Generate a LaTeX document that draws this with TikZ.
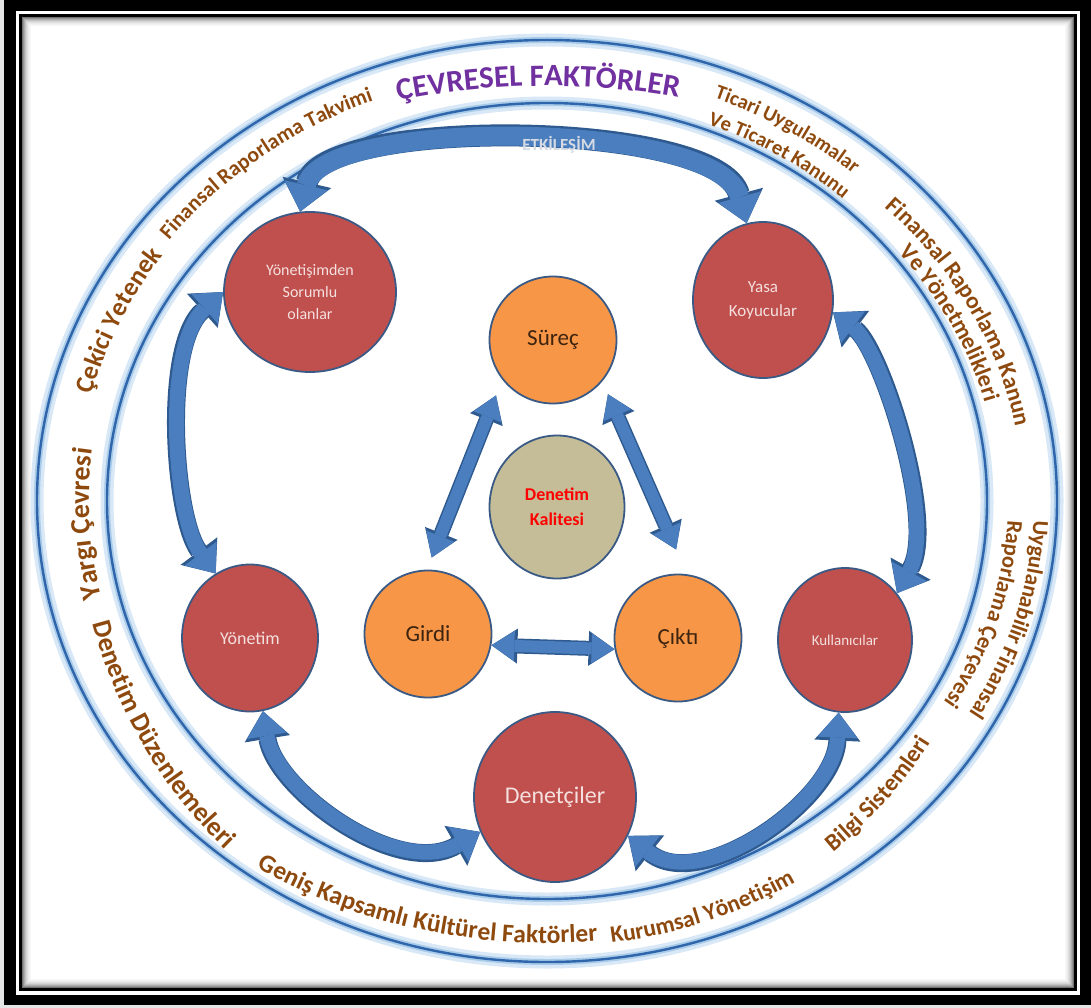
\documentclass[tikz,border=0pt]{standalone}
\usepackage{fontspec}
\setmainfont{Carlito}
\usetikzlibrary{arrows.meta,decorations.text,shapes.geometric}

\definecolor{ringblue}{HTML}{2F65AA}
\definecolor{ringglow}{HTML}{A9CBEA}
\definecolor{arrowfill}{HTML}{4A7EBF}
\definecolor{arrowedge}{HTML}{2E5A8F}
\definecolor{actorred}{HTML}{C0504D}
\definecolor{phaseorange}{HTML}{F79646}
\definecolor{qualitytan}{HTML}{C4BD97}
\definecolor{outline}{HTML}{3A5A85}
\definecolor{factorbrown}{HTML}{8E4A0E}
\definecolor{factorpurple}{HTML}{7030A0}
\definecolor{actortext}{HTML}{F4E0DF}
\definecolor{phasetext}{HTML}{3C2410}
\definecolor{etktext}{HTML}{D5DAE3}

\newcommand{\fsz}[1]{\fontsize{#1}{#1}\selectfont}

\tikzset{
  actor/.style={ellipse, draw=outline, line width=1.8, fill=actorred, text=actortext, align=center, inner sep=0pt},
  phase/.style={ellipse, draw=outline, line width=1.8, fill=phaseorange, text=phasetext, inner sep=0pt,
    minimum width=127, minimum height=127, font=\fsz{23}},
  quality/.style={ellipse, draw=outline, line width=1.8, fill=qualitytan, text=red, align=center, inner sep=0pt,
    minimum width=135, minimum height=143, font=\fontsize{18}{25}\selectfont\bfseries},
  ringline/.style={draw=ringblue, line width=2.4,
    preaction={draw=ringglow!45, line width=13}, preaction={draw=ringglow, line width=6}},
  flow/.style={draw=arrowfill, line width=15,
    {Triangle[length=25,width=40,line width=0pt]}-{Triangle[length=25,width=40,line width=0pt]},
    preaction={draw=arrowedge, line width=18,
      {Triangle[length=28,width=46,line width=0pt]}-{Triangle[length=28,width=46,line width=0pt]}}},
  bigflow/.style={draw=arrowfill, line width=19,
    {Triangle[length=27,width=44,line width=0pt]}-{Triangle[length=27,width=44,line width=0pt]},
    preaction={draw=arrowedge, line width=22,
      {Triangle[length=30,width=50,line width=0pt]}-{Triangle[length=30,width=50,line width=0pt]}}},
  thinflow/.style={draw=arrowfill, line width=12,
    {Triangle[length=23,width=30,line width=0pt]}-{Triangle[length=23,width=30,line width=0pt]},
    preaction={draw=arrowedge, line width=15,
      {Triangle[length=26,width=35,line width=0pt]}-{Triangle[length=26,width=35,line width=0pt]}}},
  factor/.style 2 args={decorate, decoration={text along path, text align=center, text color=factorbrown,
    text={|\fsz{#1}\bfseries|#2}}},
  title/.style 2 args={decorate, decoration={text along path, text align=center, text color=factorpurple,
    text={|\fsz{#1}\bfseries|#2}}},
}

\begin{document}
\begin{tikzpicture}[x=1pt,y=-1pt]
  \useasboundingbox (0,0) rectangle (1091,1008);

  % frame
  \fill[black!10] (0,0) rectangle (1091,1008);
  \fill[black] (4,0) rectangle (1091,1005);
  \fill[white] (16,11) rectangle (1080,995);
  \draw[black, line width=3] (20.5,15.5) rectangle (1075.5,989.5);
  \foreach \k/\s in {1/55,2/42,3/32,4/24,5/17,6/12,7/8,8/5,9/3}
    \draw[black!\s, line width=1.1] ({21.5+\k},{16.5+\k}) rectangle ({1074.5-\k},{988.5-\k});

  % the two rings
  \coordinate (c) at (547,501);
  \draw[ringline] (c) ellipse[x radius=510, y radius=461];
  \draw[ringline] (c) ellipse[x radius=440, y radius=398];

  % ring texts, upper half read clockwise
  \path[title={31}{ÇEVRESEL FAKTÖRLER}] (c) ++(229:560 and 415) arc[start angle=229, end angle=309, x radius=560, y radius=415];
  \path[factor={21.5}{Finansal Raporlama Takvimi}] (c) ++(192:475 and 430) arc[start angle=192, end angle=272, x radius=475, y radius=430];
  \path[factor={26}{Çekici Yetenek}] (c) ++(164:470 and 426) arc[start angle=164, end angle=244, x radius=470, y radius=426];
  \path[factor={28}{Yargı Çevresi}] (c) ++(137:458 and 414) arc[start angle=137, end angle=217, x radius=458, y radius=414];
  \path[factor={20.5}{Ticari Uygulamalar}] (c) ++(261.5:471 and 431) arc[start angle=261.5, end angle=341.5, x radius=471, y radius=431];
  \path[factor={20.5}{Ve Ticaret Kanunu}] (c) ++(262.3:446 and 404) arc[start angle=262.3, end angle=342.3, x radius=446, y radius=404];
  \path[factor={23.5}{Finansal Raporlama Kanun}] (c) ++(293.5:476 and 417) arc[start angle=293.5, end angle=373.5, x radius=476, y radius=417];
  \path[factor={23.5}{Ve Yönetmelikleri}] (c) ++(294.5:452 and 395) arc[start angle=294.5, end angle=374.5, x radius=452, y radius=395];
  \path[factor={22.5}{Uygulanabilir Finansal}] (c) ++(-24.5:487 and 425) arc[start angle=-24.5, end angle=55.5, x radius=487, y radius=425];
  \path[factor={22.5}{Raporlama Çerçevesi}] (c) ++(-24.2:461 and 395) arc[start angle=-24.2, end angle=55.8, x radius=461, y radius=395];

  % ring texts, lower half read anticlockwise
  \path[factor={27}{Denetim Düzenlemeleri}] (c) ++(189:470 and 478) arc[start angle=189, end angle=109, x radius=470, y radius=478];
  \path[factor={25.5}{Geniş Kapsamlı Kültürel Faktörler}] (c) ++(150:520 and 442) arc[start angle=150, end angle=60, x radius=520, y radius=442];
  \path[factor={23.5}{Kurumsal Yönetişim}] (c) ++(110:478 and 446) arc[start angle=110, end angle=30, x radius=478, y radius=446];
  \path[factor={24}{Bilgi Sistemleri}] (c) ++(81.5:453 and 453) arc[start angle=81.5, end angle=1.5, x radius=453, y radius=453];

  % actors
  \node[actor, minimum width=172, minimum height=160, font=\fontsize{16}{22}\selectfont] (gov) at (310,292) {Yönetişimden\\Sorumlu\\olanlar};
  \node[actor, minimum width=140, minimum height=156, font=\fontsize{17}{24}\selectfont] (yasa) at (763,300) {Yasa\\Koyucular};
  \node[actor, minimum width=136, minimum height=147, font=\fsz{18}] (yon) at (250,638) {Yönetim};
  \node[actor, minimum width=134, minimum height=144, font=\fsz{15}] (kul) at (845,640) {Kullanıcılar};
  \node[actor, minimum width=162, minimum height=170, font=\fsz{24}] (den) at (555,797) {Denetçiler};

  % audit process
  \node[phase] (sur) at (553,340) {Süreç};
  \node[phase] (gir) at (428,634) {Girdi};
  \node[phase] (cik) at (678,638) {Çıktı};
  \node[quality] (kal) at (557,507) {Denetim\\Kalitesi};

  % interactions
  \draw[bigflow] (gov.97) .. controls +(22,-95) and +(-28,-104) .. node[pos=.56, font=\fsz{17}\bfseries, text=etktext] (etk) {ETKİLEŞİM} (yasa.102);
  \draw[flow] (gov.180) .. controls +(-61,55) and +(-42,-56) .. (yon.118);
  \draw[flow] (yasa.-10) .. controls +(48,36) and +(40,-72) .. (kul.42);
  \draw[flow] (yon.-80) .. controls +(13,80) and +(-82,47) .. (den.205);
  \draw[flow] (den.-28) .. controls +(73,58) and +(-4,88) .. (kul.-95);

  \draw[thinflow, shorten <=17, shorten >=13] (sur.218) -- (gir.91);
  \draw[thinflow, shorten <=14, shorten >=27] (sur.320) -- (cik.82);
  \draw[thinflow] (gir.-10) -- (cik.190);
\end{tikzpicture}
\end{document}
